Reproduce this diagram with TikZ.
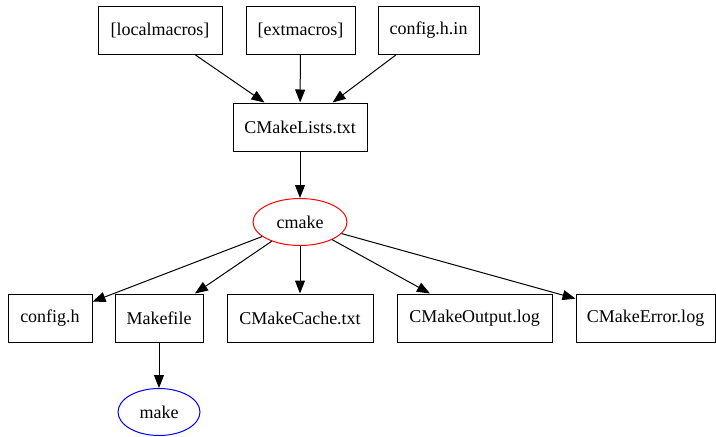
\documentclass[tikz,border=0pt]{standalone}
\usepackage{fontspec}
\setmainfont{Liberation Serif}
\usetikzlibrary{arrows.meta}
\usetikzlibrary{shapes.geometric}

\tikzset{filebox/.style = {draw, rectangle, line width=1pt,
                           font=\fontsize{18}{20}\selectfont,
                           inner sep=0pt, minimum width=#1, minimum height=48pt}}
\tikzset{tool/.style = {draw, ellipse, line width=1pt,
                        font=\fontsize{18}{20}\selectfont,
                        inner sep=0pt, minimum width=#1, minimum height=47pt}}
\tikzset{dep/.style = {-{Triangle[length=13pt, width=10pt]}, line width=1pt}}

\begin{document}
\begin{tikzpicture}[x=1pt, y=-1pt]
      \useasboundingbox (0, 0) rectangle (716, 437);

      \node [filebox=124pt] (localmacros) at (160, 30.5) {[localmacros]};
      \node [filebox=109pt] (extmacros) at (300.5, 30.5) {[extmacros]};
      \node [filebox=101pt] (confighin) at (428.5, 30.5) {config.h.in};

      \node [filebox=134pt] (cmakelists) at (300, 127) {CMakeLists.txt};
      \node [tool=94pt, red] (cmake) at (300, 222) {\textcolor{black}{cmake}};

      \node [filebox=84pt] (configh) at (50, 318) {config.h};
      \node [filebox=88pt] (makefile) at (159, 318) {Makefile};
      \node [filebox=146pt] (cache) at (300, 318) {CMakeCache.txt};
      \node [filebox=155pt] (output) at (474.5, 318) {CMakeOutput.log};
      \node [filebox=139pt] (error) at (645.5, 318) {CMakeError.log};

      \node [tool=82pt, blue] (make) at (159, 412) {\textcolor{black}{make}};

      \draw [dep] (localmacros) -- (cmakelists);
      \draw [dep] (extmacros) -- (cmakelists);
      \draw [dep] (confighin) -- (cmakelists);
      \draw [dep] (cmakelists) -- (cmake);

      \draw [dep] (cmake) -- (configh);
      \draw [dep] (cmake) -- (makefile);
      \draw [dep] (cmake) -- (cache);
      \draw [dep] (cmake) -- (output);
      \draw [dep] (cmake) -- (error);

      \draw [dep] (makefile) -- (make);
    \end{tikzpicture}
\end{document}
